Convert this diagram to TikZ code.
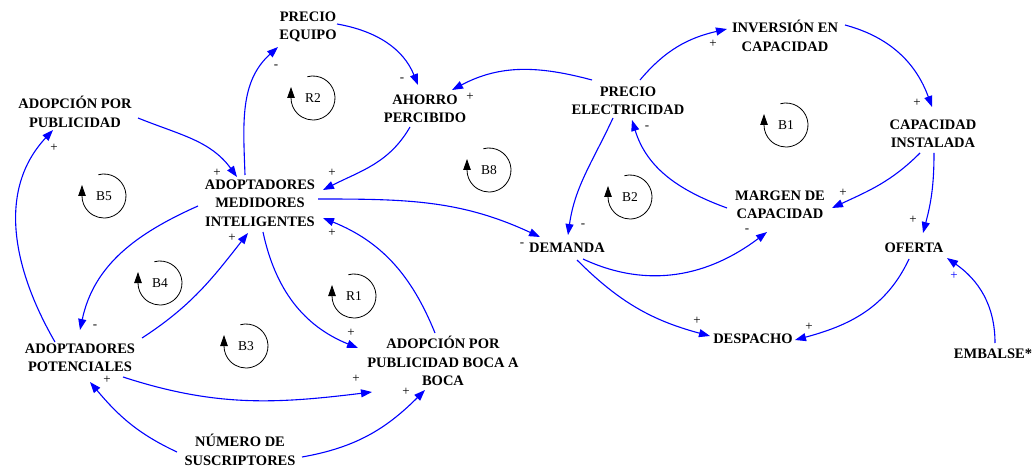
\documentclass[tikz,border=0pt]{standalone}
\usepackage{fontspec}
\setmainfont{Liberation Serif}
\usetikzlibrary{arrows.meta}
\tikzset{
  var/.style={font=\fontsize{14.5}{18.5}\selectfont\bfseries, align=center, inner sep=1pt},
  link/.style={draw=blue, line width=1.1pt, -{Triangle[length=11pt,width=8pt,fill=blue]}},
  pol/.style={font=\fontsize{13}{13}\selectfont, inner sep=0pt},
  loopc/.style={draw=black, line width=0.8pt, -{Triangle[length=11pt,width=7.5pt]}},
  looplab/.style={font=\fontsize{13.5}{13.5}\selectfont, inner sep=0pt},
}
\newcommand{\cldloop}[3]{%
  \node[looplab] (#1) at (#2) {#3};
  \draw[loopc] ([shift={(105:22)}]#1.center) arc[start angle=105,end angle=-180,radius=22] -- ++(0,11);
}
\begin{document}
\begin{tikzpicture}[x=1pt,y=1pt]
\useasboundingbox (0,0) rectangle (1035,469);
% variables
\node[var] (peq)  at (308,442) {PRECIO\\EQUIPO};
\node[var] (apub) at (75,357)  {ADOPCIÓN POR\\PUBLICIDAD};
\node[var] (aho)  at (425,360) {AHORRO\\PERCIBIDO};
\node[var] (pel)  at (628,368) {PRECIO\\ELECTRICIDAD};
\node[var] (inv)  at (785,433) {INVERSIÓN EN\\CAPACIDAD};
\node[var] (cap)  at (933,335) {CAPACIDAD\\INSTALADA};
\node[var] (ami)  at (260,266) {ADOPTADORES\\MEDIDORES\\INTELIGENTES};
\node[var] (mar)  at (780,264) {MARGEN DE\\CAPACIDAD};
\node[var] (dem)  at (567,221) {DEMANDA};
\node[var] (ofe)  at (914,221) {OFERTA};
\node[var] (apo)  at (80,111)  {ADOPTADORES\\POTENCIALES};
\node[var] (boca) at (443,108) {ADOPCIÓN POR\\PUBLICIDAD BOCA A\\BOCA};
\node[var] (des)  at (753,130) {DESPACHO};
\node[var] (emb)  at (993,115) {EMBALSE*};
\node[var] (num)  at (240,19)  {NÚMERO DE\\SUSCRIPTORES};
% loops
\cldloop{lR2}{313,371}{R2}
\cldloop{lB5}{104,273}{B5}
\cldloop{lB8}{489,299}{B8}
\cldloop{lB1}{786,344}{B1}
\cldloop{lB2}{630,272}{B2}
\cldloop{lB4}{160,186}{B4}
\cldloop{lB3}{246,123}{B3}
\cldloop{lR1}{354,173}{R1}
% connectors
\draw[link] ([shift={(29,3)}]peq.center) to[out=-10,in=112] ([shift={(-7,24)}]aho.center);
\draw[link] ([shift={(-36,21)}]pel.center) to[out=165,in=28] ([shift={(27,19)}]aho.center);
\draw[link] ([shift={(-15,-18)}]aho.center) to[out=-120,in=27] ([shift={(63,13)}]ami.center);
\draw[link] ([shift={(63,-6)}]apub.center) to[out=-22,in=126] ([shift={(-23,26)}]ami.center);
\draw[link] ([shift={(-15,28)}]ami.center) to[out=92,in=-138] ([shift={(-30,-20)}]peq.center);
\draw[link] ([shift={(58,4)}]ami.center) to[out=0,in=155] ([shift={(-27,11)}]dem.center);
\draw[link] ([shift={(-15,-17)}]pel.center) to[out=-115,in=82] ([shift={(1,13)}]dem.center);
\draw[link] ([shift={(-53,-3)}]mar.center) to[out=160,in=-73] ([shift={(4,-19)}]pel.center);
\draw[link] ([shift={(12,21)}]pel.center) to[out=50,in=193] ([shift={(-58,7)}]inv.center);
\draw[link] ([shift={(60,11)}]inv.center) to[out=-15,in=110] ([shift={(-1,27)}]cap.center);
\draw[link] ([shift={(-13,-19)}]cap.center) to[out=-135,in=25] ([shift={(52,-3)}]mar.center);
\draw[link] ([shift={(1,-19)}]cap.center) to[out=-90,in=75] ([shift={(9,15)}]ofe.center);
\draw[link] ([shift={(16,-11)}]dem.center) to[out=-25,in=-143] ([shift={(-13,-27)}]mar.center);
\draw[link] ([shift={(10,-12)}]dem.center) to[out=-45,in=165] ([shift={(-43,3)}]des.center);
\draw[link] ([shift={(-5,-11)}]ofe.center) to[out=-115,in=15] ([shift={(42,-1)}]des.center);
\draw[link] ([shift={(2,11)}]emb.center) to[out=90,in=-35] ([shift={(33,-10)}]ofe.center);
\draw[link] ([shift={(-62,-3)}]ami.center) to[out=204,in=78] ([shift={(0,28)}]apo.center);
\draw[link] ([shift={(-25,16)}]apo.center) to[out=120,in=-133] ([shift={(-22,-18)}]apub.center);
\draw[link] ([shift={(62,20)}]apo.center) to[out=33,in=-128] ([shift={(-12,-30)}]ami.center);
\draw[link] ([shift={(3,-29)}]ami.center) to[out=-78,in=158] ([shift={(-85,13)}]boca.center);
\draw[link] ([shift={(-8,28)}]boca.center) to[out=112,in=-22] ([shift={(63,-15)}]ami.center);
\draw[link] ([shift={(43,-19)}]apo.center) to[out=-18,in=-173] ([shift={(-71,-31)}]boca.center);
\draw[link] ([shift={(-63,-2)}]num.center) to[out=155,in=-50] ([shift={(10,-24)}]apo.center);
\draw[link] ([shift={(62,-7)}]num.center) to[out=10,in=-135] ([shift={(-18,-29)}]boca.center);
% polarities
\node[pol] (s1)  at (402,389) {-};
\node[pol] (s2)  at (470,372) {+};
\node[pol] (s3)  at (332,296) {+};
\node[pol] (s4)  at (217,296) {+};
\node[pol] (s5)  at (276,402) {-};
\node[pol] (s6)  at (522,224) {-};
\node[pol] (s7)  at (583,243) {-};
\node[pol] (s8)  at (647,341) {-};
\node[pol] (s9)  at (713,425) {+};
\node[pol] (s10) at (917,366) {+};
\node[pol] (s11) at (843,276) {+};
\node[pol] (s12) at (913,249) {+};
\node[pol] (s13) at (747,238) {-};
\node[pol] (s14) at (697,148) {+};
\node[pol] (s15) at (809,142) {+};
\node[pol,text=blue] (s16) at (954,193) {+};
\node[pol] (s17) at (95,142)  {-};
\node[pol] (s18) at (54,321)  {+};
\node[pol] (s19) at (232,231) {+};
\node[pol] (s20) at (351,136) {+};
\node[pol] (s21) at (332,236) {+};
\node[pol] (s22) at (356,90)  {+};
\node[pol] (s23) at (107,89)  {+};
\node[pol] (s24) at (406,77)  {+};
\end{tikzpicture}
\end{document}
